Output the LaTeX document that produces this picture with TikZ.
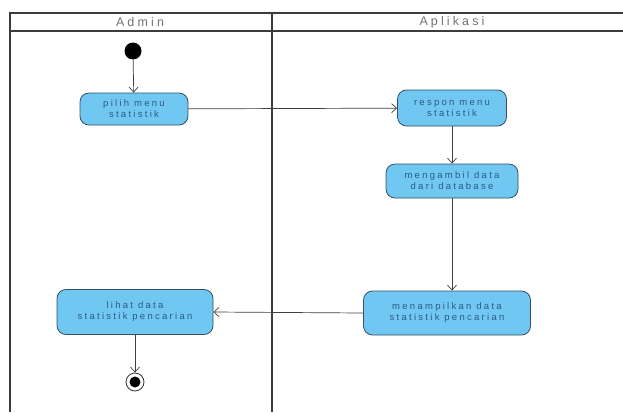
\documentclass[tikz,border=0pt]{standalone}
\usepackage{fontspec}
\setmainfont{Liberation Sans}
\usetikzlibrary{arrows.meta}
\definecolor{actfill}{RGB}{112,200,242}
\definecolor{actline}{RGB}{55,80,100}
\definecolor{acttext}{RGB}{45,90,130}
\definecolor{laneline}{RGB}{60,60,60}
\begin{document}
\begin{tikzpicture}[x=1pt,y=-1pt,
	act/.style={rectangle,rounded corners=9pt,draw=actline,fill=actfill,line width=0.8pt,
		text=acttext,align=center,inner sep=1pt,
		font=\fontsize{9.5}{11}\selectfont\addfontfeature{LetterSpace=24}},
	lane/.style={draw=laneline,line width=1.4pt},
	flow/.style={draw=black!75,line width=0.7pt,-{Straight Barb[length=5pt,width=9pt]}},
	head/.style={text=black!55,font=\fontsize{12.5}{13}\selectfont\addfontfeature{LetterSpace=25}}]
\useasboundingbox[fill=white] (0,0) rectangle (623,412);
% swimlanes
\draw[lane] (10,412) -- (10,13) -- (623,13);
\draw[lane] (10,31) -- (623,31);
\draw[lane] (272,13) -- (272,412);
\node[head] (admin) at (140,22) {Admin};
\node[head] (aplikasi) at (452,22) {Aplikasi};
% activities
\node[circle,fill=black,minimum size=17pt,inner sep=0] (start) at (133,51) {};
\node[act,minimum width=108pt,minimum height=32pt] (pilih) at (134,109) {pilih menu\\statistik};
\node[act,minimum width=109pt,minimum height=36pt] (respon) at (452,108) {respon menu\\statistik};
\node[act,minimum width=132pt,minimum height=34pt] (ambil) at (452,181) {mengambil data\\dari database};
\node[act,minimum width=167pt,minimum height=44pt] (tampil) at (447,313) {menampilkan data\\statistik pencarian};
\node[act,minimum width=156pt,minimum height=45pt] (lihat) at (135,312) {lihat data\\statistik pencarian};
\node[circle,draw=black!80,line width=0.8pt,minimum size=18pt,inner sep=0] (stop) at (135,382) {};
\node[circle,fill=black,minimum size=11pt,inner sep=0] (stopdot) at (stop) {};
% flows
\draw[flow] (start) -- (pilih);
\draw[flow] (pilih) -- (respon);
\draw[flow] (respon) -- (ambil);
\draw[flow] (ambil) -- (ambil |- tampil.north);
\draw[flow] (tampil.west) -- (lihat.east);
\draw[flow] (lihat) -- (stop);
\end{tikzpicture}
\end{document}
